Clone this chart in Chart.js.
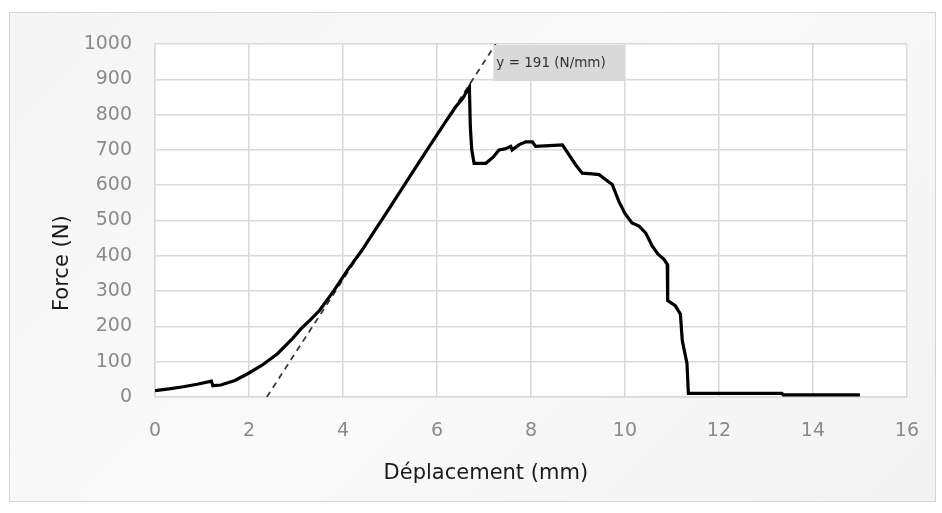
<!DOCTYPE html>
<html>
<head>
<meta charset="utf-8">
<script src="https://cdn.jsdelivr.net/npm/chart.js@4.4.1/dist/chart.umd.min.js"></script>
<style>
  html, body { margin: 0; padding: 0; background: #ffffff; }
  .frame {
    position: absolute; left: 9px; top: 12px; width: 925px; height: 488px;
    border: 1px solid #d4d4d4;
    background: linear-gradient(135deg, #f5f5f5 0%, #fafafa 50%, #f2f2f2 100%);
  }
  .wrap { position: absolute; left: 0; top: 0; width: 942px; height: 513px; }
</style>
</head>
<body>
<div class="frame"></div>
<div class="wrap"><canvas id="force-chart"></canvas></div>
<script>
// deplacement (mm) / force (N)
let displacement = [0, 0.3, 0.6, 0.9, 1.2, 1.23, 1.4, 1.7, 2.0, 2.3, 2.6, 2.93, 3.1, 3.3,
    3.5, 3.8, 4.1, 4.4, 4.7, 5.0, 5.4, 5.8, 6.2, 6.4, 6.55, 6.69, 6.71, 6.74, 6.79,
    7.04, 7.2, 7.32, 7.45, 7.57, 7.6, 7.75, 7.89, 8.03, 8.1, 8.4, 8.67, 8.74, 8.95,
    9.09, 9.3, 9.45, 9.6, 9.73, 9.87, 10.0, 10.15, 10.3, 10.44, 10.58, 10.7, 10.83,
    10.9, 10.91, 11.07, 11.18, 11.22, 11.32, 11.35, 12.5, 13.34, 13.37, 15.0];
let force = [18, 23, 29, 36, 45, 32, 34, 47, 68, 92, 122, 166, 192, 218,
    245, 300, 360, 415, 476, 537, 620, 702, 783, 822, 846, 878, 765, 700, 662,
    662, 680, 700, 703, 710, 700, 715, 723, 723, 710, 712, 714, 700, 658,
    634, 632, 630, 615, 602, 554, 520, 493, 484, 465, 428, 405, 390,
    376, 273, 259, 235, 160, 95, 10, 10, 10, 6, 6];

// tangent line, slope 191 N/mm
let tangent_x = [2.38, 7.25];
let tangent_y = [0, 1000];
let tangent_label = 'y = 191 (N/mm)';

let x_ticks = [0, 2, 4, 6, 8, 10, 12, 14, 16];
let y_ticks = [0, 100, 200, 300, 400, 500, 600, 700, 800, 900, 1000];
let x_title = 'Déplacement (mm)';
let y_title = 'Force (N)';

let curve_points = displacement.map(function(x, i) { return { x: x, y: force[i] }; });
let tangent_points = tangent_x.map(function(x, i) { return { x: x, y: tangent_y[i] }; });

let plot_background = {
    id: 'plot_background',
    beforeDraw: function(chart) {
        let a = chart.chartArea;
        let ctx = chart.ctx;
        ctx.save();
        ctx.fillStyle = '#ffffff';
        ctx.fillRect(a.left, a.top, a.right - a.left, a.bottom - a.top);
        ctx.restore();
    }
};

// axis titles sit off-centre in the original, so they are drawn here
let axis_titles = {
    id: 'axis_titles',
    afterDraw: function(chart) {
        let a = chart.chartArea;
        let ctx = chart.ctx;
        ctx.save();
        ctx.fillStyle = '#1a1a1a';
        ctx.font = '21px "DejaVu Sans"';
        ctx.textAlign = 'center';
        ctx.textBaseline = 'middle';
        ctx.fillText(x_title, a.left + (a.right - a.left) * 0.44, a.bottom + 77);
        ctx.translate(a.left - 92, a.top + (a.bottom - a.top) * 0.621);
        ctx.rotate(-Math.PI / 2);
        ctx.fillText(y_title, 0, 0);
        ctx.restore();
    }
};

let slope_label = {
    id: 'slope_label',
    afterDatasetsDraw: function(chart) {
        let x = chart.scales.x;
        let y = chart.scales.y;
        let ctx = chart.ctx;
        let left = x.getPixelForValue(7.2);
        let right = x.getPixelForValue(10.0);
        let top = y.getPixelForValue(997);
        let bottom = y.getPixelForValue(895);
        ctx.save();
        ctx.fillStyle = '#d9d9d9';
        ctx.fillRect(left, top, right - left, bottom - top);
        ctx.fillStyle = '#333333';
        ctx.font = '13.5px "DejaVu Sans"';
        ctx.textBaseline = 'middle';
        ctx.fillText(tangent_label, left + 3, (top + bottom) / 2);
        ctx.restore();
    }
};

window.onload = function() {
    let chart_element = document.getElementById('force-chart');
    chart_element.width = 942;
    chart_element.height = 513;

    new Chart(chart_element, {
        type: 'scatter',
        data: {
            datasets: [{
                label: 'Force',
                data: curve_points,
                showLine: true,
                borderColor: '#000000',
                borderWidth: 3.2,
                pointRadius: 0,
                tension: 0
            }, {
                label: 'Tangente',
                data: tangent_points,
                showLine: true,
                borderColor: '#3a3a3a',
                borderWidth: 1.8,
                borderDash: [6, 5],
                pointRadius: 0
            }]
        },
        options: {
            responsive: false,
            animation: false,
            layout: { padding: { left: 0, right: 32, top: 44, bottom: 0 } },
            plugins: {
                legend: { display: false },
                tooltip: { enabled: false }
            },
            scales: {
                x: {
                    type: 'linear',
                    min: 0,
                    max: 16,
                    afterBuildTicks: function(s) { s.ticks = x_ticks.map(function(v) { return { value: v }; }); },
                    afterFit: function(s) { s.height = 116; },
                    grid: { color: '#d9d9d9', lineWidth: 1.5, drawTicks: false },
                    border: { color: '#d9d9d9', width: 1.5 },
                    ticks: {
                        color: '#8a8a8a', padding: 23,
                        font: { family: 'DejaVu Sans', size: 19 },
                        callback: function(v) { return String(v); }
                    }
                },
                y: {
                    type: 'linear',
                    min: 0,
                    max: 1000,
                    afterBuildTicks: function(s) { s.ticks = y_ticks.map(function(v) { return { value: v }; }); },
                    afterFit: function(s) { s.width = 155; },
                    grid: { color: '#d9d9d9', lineWidth: 1.5, drawTicks: false },
                    border: { color: '#d9d9d9', width: 1.5 },
                    ticks: {
                        color: '#8a8a8a', padding: 23,
                        font: { family: 'DejaVu Sans', size: 19 },
                        callback: function(v) { return String(v); }
                    }
                }
            }
        },
        plugins: [plot_background, slope_label, axis_titles]
    });
};
</script>
</body>
</html>
